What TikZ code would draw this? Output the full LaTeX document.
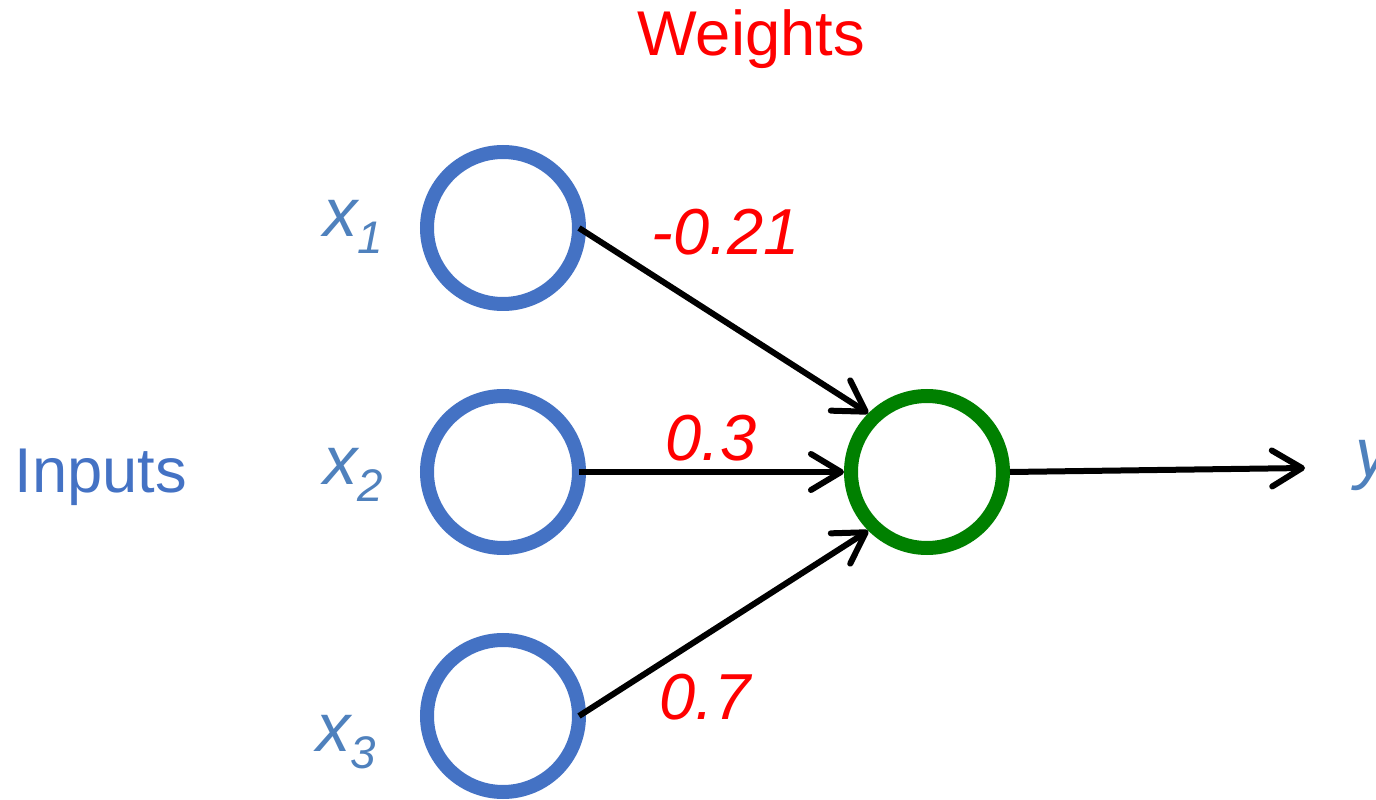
\documentclass[tikz,border=0pt]{standalone}
\usepackage{fontspec}
\setmainfont{Liberation Sans}
\usetikzlibrary{positioning, arrows.meta}
\definecolor{nnblue}{HTML}{4472C4}
\definecolor{lblblue}{HTML}{4F81BD}
\definecolor{nngreen}{HTML}{008000}
\definecolor{wred}{HTML}{FF0000}
\newcommand{\invar}[2]{\itshape #1\raisebox{-0.45ex}{\fontsize{13}{13}\selectfont #2}}

\begin{document}
\begin{tikzpicture}[
      every node/.style={font=\fontsize{18}{18}\selectfont},
      neuron/.style={circle, draw=nnblue, line width=0.14cm,
                     minimum size=1.52cm, inner sep=0pt},
      wlabel/.style={text=wred, font=\fontsize{18.5}{18.5}\selectfont\itshape},
      vlabel/.style={text=lblblue, font=\fontsize{19.5}{19.5}\selectfont},
      link/.style={->, line width=0.06cm},
      >={Straight Barb[length=3mm, width=3.6mm, round]},
    ]
    \useasboundingbox (0,0) rectangle (13.76,7.99);

    \node[neuron, outer sep=0pt] (in1) at (5.03, 5.71) {};
    \node[neuron, outer sep=0pt] (in2) at (5.03, 3.27) {};
    \node[neuron, outer sep=0pt] (in3) at (5.03, 0.83) {};
    \node[neuron, draw=nngreen]  (sum) at (9.27, 3.27) {};
    \coordinate (out) at (13.05, 3.31);

    \node[vlabel] (lx1) at (3.53, 5.72) {\invar{x}{1}};
    \node[vlabel] (lx2) at (3.53, 3.24) {\invar{x}{2}};
    \node[vlabel] (lx3) at (3.46, 0.57) {\invar{x}{3}};
    \node[vlabel, anchor=west] (ly) at (13.43, 3.33) {\itshape y};

    \node[text=nnblue] (inputs) at (1.01, 3.22) {Inputs};
    \node[text=wred]   (weights) at (7.51, 7.60) {Weights};

    \node[wlabel] (w1) at (7.26, 5.67) {-0.21};
    \node[wlabel] (w2) at (7.11, 3.61) {0.3};
    \node[wlabel] (w3) at (7.05, 1.02) {0.7};

    \draw[link] (in1.east) -- (sum.135);
    \draw[link] (in2.east) -- (sum.west);
    \draw[link] (in3.east) -- (sum.225);
    \draw[link] (sum.east) -- (out);
  \end{tikzpicture}
\end{document}
